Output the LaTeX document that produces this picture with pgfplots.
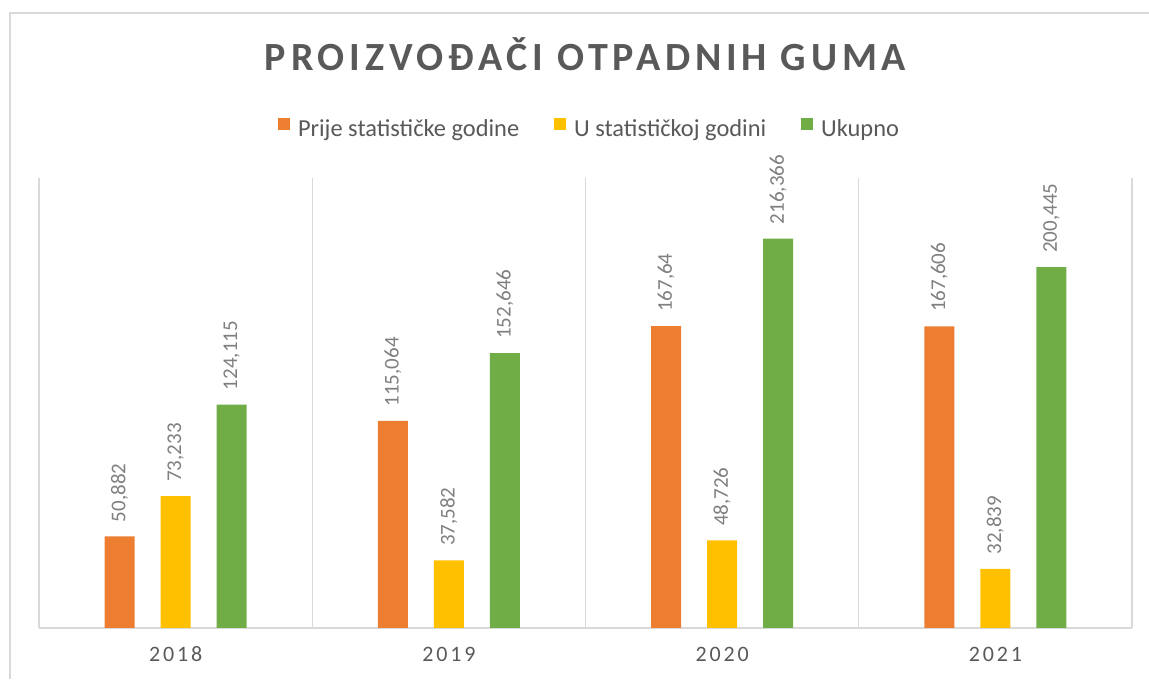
\documentclass[border=0pt]{standalone}
\usepackage{pgfplots}
\pgfplotsset{compat=1.18}
\usepackage{fontspec}
\setmainfont{Carlito}
\definecolor{orng}{HTML}{ED7D31}
\definecolor{yelw}{HTML}{FFC000}
\definecolor{grn}{HTML}{70AD47}
\definecolor{txt}{HTML}{595959}
\definecolor{lbl}{HTML}{7F7F7F}
\definecolor{grd}{HTML}{D9D9D9}

\begin{document}
\begin{tikzpicture}
\path[use as bounding box] (0,0) rectangle (574.5pt,339.5pt);
% chart border (cropped on the right and bottom)
\draw[grd, line width=0.7pt] (5pt,0) -- (5pt,333pt) -- (574.5pt,333pt);

\begin{axis}[
    at={(19.5pt,25.5pt)}, anchor=south west,
    scale only axis,
    width=546.5pt, height=225pt,
    ybar,
    bar width=15pt,
    xmin=-0.5, xmax=3.5,
    ymin=0, ymax=250,
    xtick={0,1,2,3},
    xticklabels={2018,2019,2020,2021},
    minor xtick={-0.5,0.5,1.5,2.5,3.5},
    xminorgrids=true,
    minor grid style={grd, line width=0.7pt},
    major tick length=0pt, minor tick length=0pt,
    axis x line*=bottom,
    x axis line style={grd, line width=0.8pt, -},
    hide y axis,
    xticklabel style={anchor=base, yshift=-17pt, text=txt,
        font=\fontsize{11}{13}\selectfont\addfontfeatures{LetterSpace=13}},
    point meta=explicit symbolic,
    nodes near coords,
    nodes near coords style={rotate=90, anchor=west, text=lbl,
        inner xsep=7pt, inner ysep=0pt,
        font=\fontsize{10.5}{12}\selectfont},
    clip=false,
    title={PROIZVOĐAČI OTPADNIH GUMA},
    title style={at={(0.5,1)}, anchor=base, yshift=47.5pt, text=txt,
        font=\fontsize{20}{24}\selectfont\bfseries\addfontfeatures{LetterSpace=12}},
    legend columns=3,
    legend style={at={(0.5,1)}, anchor=south, yshift=17pt, xshift=2.5pt,
        draw=none, inner sep=0pt, text=txt,
        font=\fontsize{12.2}{14}\selectfont,
        /tikz/every even column/.append style={column sep=15.5pt}},
    legend image code/.code={\fill[#1] (0pt,0pt) rectangle (6pt,6pt); \path (8pt,0pt);},
]
\addplot[fill=orng, draw=none, bar shift=-28pt] coordinates {
    (0,50.882) [50,882]
    (1,115.064) [115,064]
    (2,167.64) [167,64]
    (3,167.606) [167,606]
};
\addplot[fill=yelw, draw=none, bar shift=0pt] coordinates {
    (0,73.233) [73,233]
    (1,37.582) [37,582]
    (2,48.726) [48,726]
    (3,32.839) [32,839]
};
\addplot[fill=grn, draw=none, bar shift=28pt] coordinates {
    (0,124.115) [124,115]
    (1,152.646) [152,646]
    (2,216.366) [216,366]
    (3,200.445) [200,445]
};
\legend{Prije statističke godine, U statističkoj godini, Ukupno}
\end{axis}
\end{tikzpicture}
\end{document}
